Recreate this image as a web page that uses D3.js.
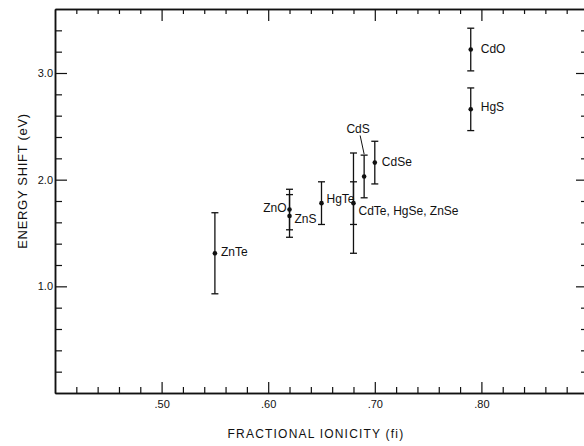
<!DOCTYPE html>
<html>
<head>
<meta charset="utf-8">
<script src="https://cdn.jsdelivr.net/npm/d3@7"></script>
<style>
  body { margin: 0; background: #fff; }
  text { font-family: "Liberation Sans", Arial, sans-serif; fill: #111; }
</style>
</head>
<body>
<div id="chart"></div>
<script>
// compounds, fractional ionicity, energy shift (eV) and error (eV)
const names = ["ZnTe", "ZnO", "ZnS", "HgTe", "CdTe, HgSe, ZnSe", "CdS", "CdSe", "HgS", "CdO"]
const ionicity = [0.55, 0.62, 0.62, 0.65, 0.68, 0.69, 0.70, 0.79, 0.79]
const shift = [1.31, 1.72, 1.66, 1.78, 1.78, 2.03, 2.16, 2.66, 3.22]
const error = [0.38, 0.19, 0.20, 0.20, 0.20, 0.20, 0.20, 0.20, 0.20]
const outerError = [null, null, null, null, 0.47, null, null, null, null]

const xMajor = [0.5, 0.6, 0.7, 0.8]
const yMajor = [1.0, 2.0, 3.0]

// where each label sits relative to its point (px)
const labelPlace = {
  "ZnTe": { dx: 6, dy: 0, anchor: "start" },
  "ZnO": { dx: -3, dy: -1, anchor: "end" },
  "ZnS": { dx: 5, dy: 4, anchor: "start" },
  "HgTe": { dx: 5, dy: -3, anchor: "start" },
  "CdTe, HgSe, ZnSe": { dx: 5, dy: 9, anchor: "start" },
  "CdS": { dx: -6, dy: -47, anchor: "middle" },
  "CdSe": { dx: 7, dy: 0, anchor: "start" },
  "HgS": { dx: 10, dy: -1, anchor: "start" },
  "CdO": { dx: 10, dy: 0, anchor: "start" }
}

const width = 584, height = 446
const ink = "#111"

const svg = d3.select("#chart").append("svg")
  .attr("width", width)
  .attr("height", height)

const x = d3.scaleLinear().domain([0.40, 0.90]).range([55, 588])
const y = d3.scaleLinear().domain([0, 3.6]).range([393, 9])

const xMinor = d3.range(0.42, 0.895, 0.02).filter(v => !xMajor.some(m => Math.abs(m - v) < 1e-6))
const yMinor = d3.range(0.2, 3.55, 0.2).filter(v => !yMajor.some(m => Math.abs(m - v) < 1e-6))

function styleAxis(g) {
  g.select(".domain").attr("stroke", ink).attr("stroke-width", 1.5)
  g.selectAll(".tick line").attr("stroke", ink).attr("stroke-width", 1.2)
  g.selectAll(".tick text").style("font-size", "11px").attr("fill", ink)
}

// bottom axis
svg.append("g").attr("transform", "translate(0,393)")
  .call(d3.axisBottom(x).tickValues(xMinor).tickSizeInner(-6).tickSizeOuter(0).tickFormat(""))
  .call(styleAxis)
svg.append("g").attr("transform", "translate(0,393)")
  .call(d3.axisBottom(x).tickValues(xMajor).tickSizeInner(-11).tickSizeOuter(0).tickPadding(7)
    .tickFormat(d => d3.format(".2f")(d).replace(/^0/, "")))
  .call(styleAxis)

// top axis
svg.append("g").attr("transform", "translate(0,9)")
  .call(d3.axisTop(x).tickValues(xMinor).tickSizeInner(-5).tickSizeOuter(0).tickFormat(""))
  .call(styleAxis)
svg.append("g").attr("transform", "translate(0,9)")
  .call(d3.axisTop(x).tickValues(xMajor).tickSizeInner(-12).tickSizeOuter(0).tickFormat(""))
  .call(styleAxis)

// left axis
svg.append("g").attr("transform", "translate(55,0)")
  .call(d3.axisLeft(y).tickValues(yMinor).tickSizeInner(-7).tickSizeOuter(0).tickFormat(""))
  .call(styleAxis)
svg.append("g").attr("transform", "translate(55,0)")
  .call(d3.axisLeft(y).tickValues(yMajor).tickSizeInner(-12).tickSizeOuter(0).tickPadding(2)
    .tickFormat(d3.format(".1f")))
  .call(styleAxis)

// right axis
svg.append("g").attr("transform", "translate(588,0)")
  .call(d3.axisRight(y).tickValues(yMinor).tickSizeInner(-7).tickSizeOuter(0).tickFormat(""))
  .call(styleAxis)
svg.append("g").attr("transform", "translate(588,0)")
  .call(d3.axisRight(y).tickValues(yMajor).tickSizeInner(-12).tickSizeOuter(0).tickFormat(""))
  .call(styleAxis)

// axis titles
svg.append("text")
  .attr("x", 316).attr("y", 435)
  .attr("text-anchor", "middle").attr("dominant-baseline", "middle")
  .style("font-size", "12px").style("letter-spacing", "1.2px")
  .text("FRACTIONAL IONICITY (fi)")

svg.append("text")
  .attr("transform", "translate(24,181) rotate(-90)")
  .attr("text-anchor", "middle").attr("dominant-baseline", "middle")
  .style("font-size", "13px").style("letter-spacing", "0.7px")
  .text("ENERGY SHIFT (eV)")

// error bars and points
const data = names.map((n, i) => ({
  name: n, fi: ionicity[i], e: shift[i], err: error[i], outer: outerError[i]
}))

const marks = svg.append("g")
const capHalf = 3.5

function bar(v, lo, hi) {
  marks.append("line")
    .attr("x1", x(v)).attr("x2", x(v))
    .attr("y1", y(lo)).attr("y2", y(hi))
    .attr("stroke", ink).attr("stroke-width", 1.3)
  ;[lo, hi].forEach(c => {
    marks.append("line")
      .attr("x1", x(v) - capHalf).attr("x2", x(v) + capHalf)
      .attr("y1", y(c)).attr("y2", y(c))
      .attr("stroke", ink).attr("stroke-width", 1.3)
  })
}

data.forEach(d => {
  bar(d.fi, d.e - d.err, d.e + d.err)
  if (d.outer) bar(d.fi, d.e - d.outer, d.e + d.outer)
})

marks.selectAll("circle")
  .data(data)
  .join("circle")
  .attr("cx", d => x(d.fi))
  .attr("cy", d => y(d.e))
  .attr("r", 2.3)
  .attr("fill", ink)

// labels
svg.append("g").selectAll("text")
  .data(data)
  .join("text")
  .attr("x", d => x(d.fi) + labelPlace[d.name].dx)
  .attr("y", d => y(d.e) + labelPlace[d.name].dy)
  .attr("text-anchor", d => labelPlace[d.name].anchor)
  .attr("dominant-baseline", "middle")
  .style("font-size", "12px")
  .text(d => d.name)

// leader from the CdS label to its bar
const cds = data.find(d => d.name === "CdS")
svg.append("line")
  .attr("x1", x(cds.fi) - 4).attr("y1", y(cds.e) - 41)
  .attr("x2", x(cds.fi)).attr("y2", y(cds.e + cds.err) - 1)
  .attr("stroke", ink).attr("stroke-width", 1)
</script>
</body>
</html>
